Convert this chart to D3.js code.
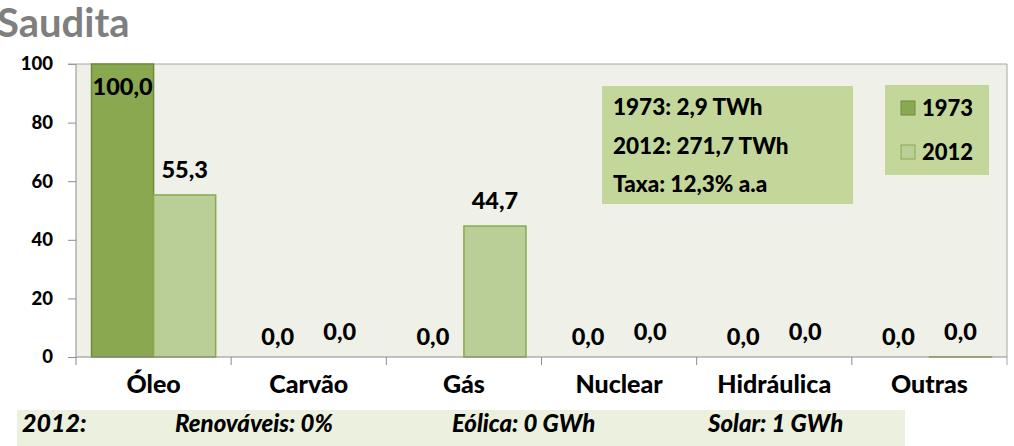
<!DOCTYPE html>
<html>
<head>
<meta charset="utf-8">
<script src="https://cdn.jsdelivr.net/npm/d3@7"></script>
<style>
  body { margin: 0; background: #fff; }
  svg { display: block; font-family: Lato, "Liberation Sans", sans-serif; font-weight: 900; }
</style>
</head>
<body>
<svg id="chart" width="1014" height="446"></svg>
<script>
// values (share of generation, %)
var categories = ["Óleo", "Carvão", "Gás", "Nuclear", "Hidráulica", "Outras"];
var years = ["1973", "2012"];
var v1973 = [100, 0, 0, 0, 0, 0];
var v2012 = [55.3, 0, 44.7, 0, 0, 0.04];
var yTicks = [0, 20, 40, 60, 80, 100];
var infoLines = ["1973: 2,9 TWh", "2012: 271,7 TWh", "Taxa: 12,3% a.a"];
var footer = ["2012:", "Renováveis: 0%", "Eólica: 0 GWh", "Solar: 1 GWh"];

var colors = { "1973": "#8aa84f", "2012": "#bacf97" };
var strokes = { "1973": "#71893f", "2012": "#8aa84f" };

var svg = d3.select("#chart");
var plot = { left: 76, right: 1007, top: 64, bottom: 357 };

var x = d3.scaleBand().domain(categories).range([plot.left, plot.right]).padding(0);
var xi = d3.scaleBand().domain(years).range([0, x.bandwidth()]).paddingOuter(0.25).paddingInner(0);
var y = d3.scaleLinear().domain([0, 100]).range([plot.bottom, plot.top]);
var fmt = function(v) { return d3.format(".1f")(v).replace(".", ","); };

// title (cropped at the left edge, as in the source)
svg.append("text")
  .attr("x", -3).attr("y", 37)
  .style("font-size", "40px").style("font-weight", "bold").style("fill", "#7f7f7f")
  .text("Saudita");

// plot background
svg.append("rect")
  .attr("x", plot.left).attr("y", plot.top)
  .attr("width", plot.right - plot.left).attr("height", plot.bottom - plot.top)
  .style("fill", "#eff1e8");

// y axis
var yAxis = svg.append("g")
  .attr("transform", "translate(" + plot.left + ",0)")
  .call(d3.axisLeft(y).tickValues(yTicks).tickSize(8).tickPadding(15));
yAxis.selectAll("line, path").style("stroke", "#8c8c8c");
yAxis.select(".domain").attr("d", "M0," + plot.top + "V" + plot.bottom);
yAxis.selectAll("text")
  .style("font-family", "Lato, sans-serif").style("font-weight", "900")
  .style("font-size", "18.5px").style("fill", "#000");

// top and right border
svg.append("line")
  .attr("x1", plot.left - 8).attr("x2", plot.right)
  .attr("y1", plot.top).attr("y2", plot.top)
  .style("stroke", "#a6a6a6");
svg.append("line")
  .attr("x1", plot.right).attr("x2", plot.right)
  .attr("y1", plot.top).attr("y2", plot.bottom + 8)
  .style("stroke", "#a6a6a6");

// bars
var rows = categories.map(function(c, i) {
  return { cat: c, vals: [{ year: "1973", v: v1973[i] }, { year: "2012", v: v2012[i] }] };
});

var groups = svg.append("g").selectAll("g")
  .data(rows).enter().append("g")
  .attr("transform", function(d) { return "translate(" + x(d.cat) + ",0)"; });

groups.selectAll("rect")
  .data(function(d) { return d.vals.filter(function(e) { return e.v > 0; }); })
  .enter().append("rect")
  .attr("x", function(d) { return xi(d.year); })
  .attr("y", function(d) { return y(d.v); })
  .attr("width", xi.bandwidth())
  .attr("height", function(d) { return y(0) - y(d.v); })
  .style("fill", function(d) { return colors[d.year]; })
  .style("stroke", function(d) { return strokes[d.year]; })
  .style("stroke-width", 1.5);

groups.selectAll("text")
  .data(function(d) { return d.vals; })
  .enter().append("text")
  .attr("x", function(d) { return xi(d.year) + xi.bandwidth() / 2; })
  .attr("y", function(d) {
    if (d.v >= 99) return y(d.v) + 31;
    if (d.year === "1973") return y(d.v) - 12;
    return y(d.v) - 17;
  })
  .attr("text-anchor", "middle")
  .style("font-size", "23.5px")
  .text(function(d) { return fmt(d.v); });

// x axis
var xAxis = svg.append("g")
  .attr("transform", "translate(0," + plot.bottom + ")");
xAxis.append("line")
  .attr("x1", plot.left).attr("x2", plot.right)
  .style("stroke", "#8c8c8c");
xAxis.selectAll(".tk")
  .data(categories).enter().append("line")
  .attr("x1", function(d) { return x(d); }).attr("x2", function(d) { return x(d); })
  .attr("y1", 0).attr("y2", 8)
  .style("stroke", "#8c8c8c");
xAxis.selectAll(".lb")
  .data(categories).enter().append("text")
  .attr("x", function(d) { return x(d) + x.bandwidth() / 2; })
  .attr("y", 36)
  .attr("text-anchor", "middle")
  .style("font-size", "25px")
  .text(function(d) { return d; });

// info box
var info = svg.append("g");
info.append("rect")
  .attr("x", 602).attr("y", 86).attr("width", 251).attr("height", 118)
  .style("fill", "#c4d79b");
info.selectAll("text")
  .data(infoLines).enter().append("text")
  .attr("x", 613)
  .attr("y", function(d, i) { return 115 + i * 38.5; })
  .style("font-size", "22.5px")
  .text(function(d) { return d; });

// legend
var legend = svg.append("g");
legend.append("rect")
  .attr("x", 885).attr("y", 85).attr("width", 104).attr("height", 90)
  .style("fill", "#c4d79b");
var li = legend.selectAll("g.item")
  .data(years).enter().append("g")
  .attr("transform", function(d, i) { return "translate(901," + (101 + i * 44) + ")"; });
li.append("rect")
  .attr("width", 14).attr("height", 14)
  .style("fill", function(d) { return colors[d]; })
  .style("stroke", function(d) { return strokes[d]; });
li.append("text")
  .attr("x", 21).attr("y", 15)
  .style("font-size", "22px")
  .text(function(d) { return d; });

// footer band
svg.append("rect")
  .attr("x", 17).attr("y", 410).attr("width", 888).attr("height", 36)
  .style("fill", "#ebf1de");
var footX = [22, 175, 452, 708];
svg.selectAll(".foot")
  .data(footer).enter().append("text")
  .attr("x", function(d, i) { return footX[i]; })
  .attr("y", 432)
  .style("font-style", "italic")
  .style("font-size", function(d, i) { return i === 0 ? "25px" : "24px"; })
  .text(function(d) { return d; });
</script>
</body>
</html>
